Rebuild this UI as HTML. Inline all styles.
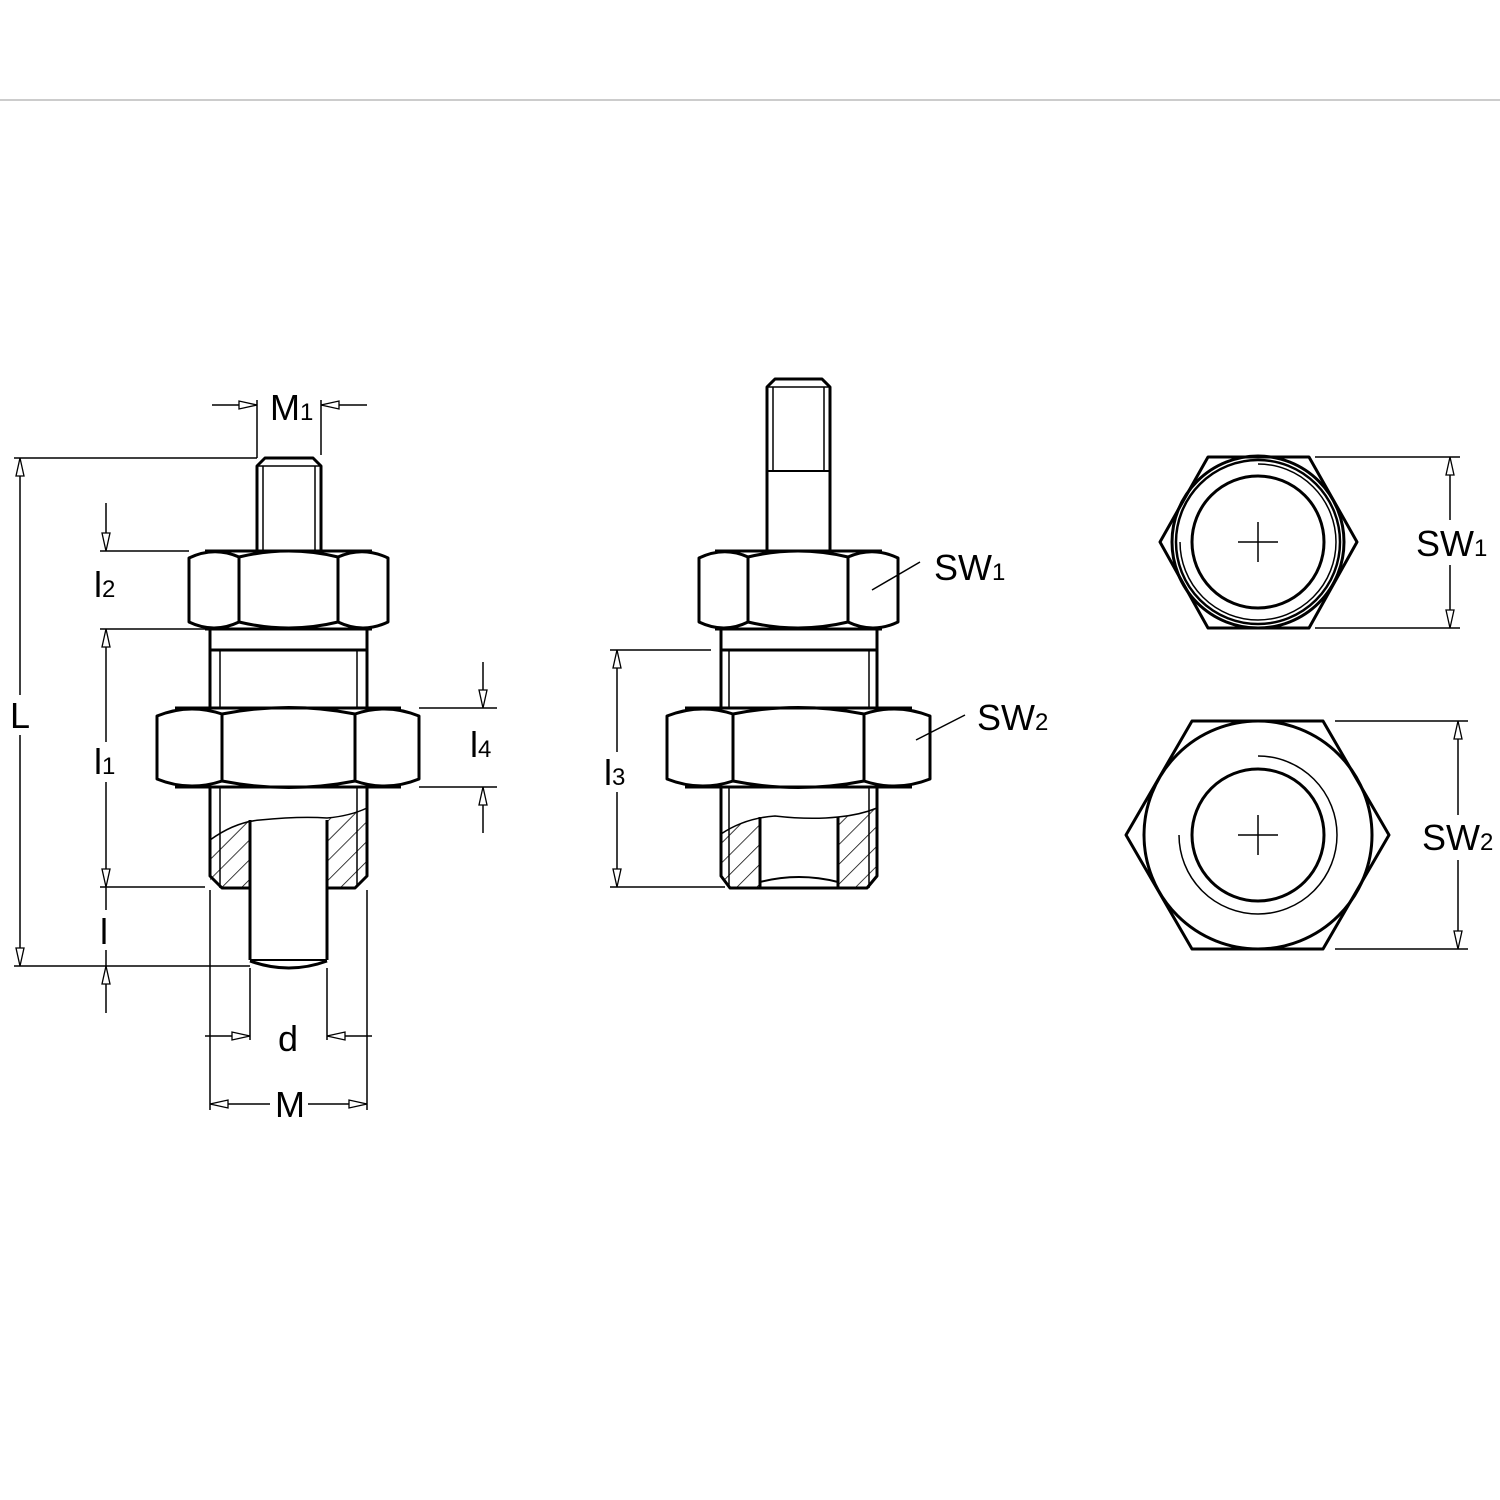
<!DOCTYPE html>
<html><head><meta charset="utf-8"><style>
html,body{margin:0;padding:0;background:#fff;}
svg{display:block;}
text{font-family:"Liberation Sans",sans-serif;fill:#000;}
</style></head><body>
<svg width="1500" height="1500" viewBox="0 0 1500 1500" xmlns="http://www.w3.org/2000/svg">
<defs>
<pattern id="h" patternUnits="userSpaceOnUse" width="14" height="14" patternTransform="rotate(45)">
<line x1="0" y1="0" x2="0" y2="14" stroke="#000" stroke-width="1.5"/>
</pattern>
</defs>
<line x1="0" y1="100" x2="1500" y2="100" stroke="#bbb" stroke-width="1.5"/>

<g fill="none" stroke="#000" stroke-width="3" stroke-linejoin="round">
<!-- LEFT VIEW -->
<!-- stud -->
<path d="M257,551 L257,466 L265,458 L313,458 L321,466 L321,551"/>
<line x1="257" y1="466" x2="321" y2="466" stroke-width="1.5"/>
<line x1="263" y1="466" x2="263" y2="551" stroke-width="1.5"/>
<line x1="315" y1="466" x2="315" y2="551" stroke-width="1.5"/>
<!-- nut A -->
<path fill="#fff" d="M189,558 Q214,546 239,557 Q289,545 338,557 Q363,546 388,558 L388,622 Q363,634 338,622 Q289,634 239,622 Q214,634 189,622 Z"/>
<line x1="239" y1="557" x2="239" y2="622"/><line x1="338" y1="557" x2="338" y2="622"/>
<line x1="205" y1="551" x2="372" y2="551"/><line x1="205" y1="629" x2="372" y2="629"/>
<!-- body -->
<line x1="210" y1="629" x2="210" y2="708"/><line x1="367" y1="629" x2="367" y2="708"/>
<line x1="210" y1="650" x2="367" y2="650"/>
<line x1="220" y1="650" x2="220" y2="708" stroke-width="1.5"/><line x1="357" y1="650" x2="357" y2="708" stroke-width="1.5"/>
<!-- nut B -->
<path fill="#fff" d="M157,716 Q189,703 222,714 Q289,701 355,714 Q387,703 419,716 L419,779 Q387,792 355,781 Q289,794 222,781 Q189,792 157,779 Z"/>
<line x1="222" y1="714" x2="222" y2="781"/><line x1="355" y1="714" x2="355" y2="781"/>
<line x1="175" y1="708" x2="401" y2="708"/><line x1="175" y1="787" x2="401" y2="787"/>
<!-- lower body -->
<path d="M210,787 L210,876 L222,888 L250,888"/>
<path d="M367,787 L367,876 L355,888 L327,888"/>
<line x1="220" y1="787" x2="220" y2="840" stroke-width="1.5"/><line x1="357" y1="787" x2="357" y2="815" stroke-width="1.5"/>
<path d="M210,840 L210,888 L222,888 L250,888 L250,822 Q230,826 210,840 Z" fill="url(#h)" stroke="none"/>
<path d="M327,818 Q350,816 367,808 L367,876 L355,888 L327,888 Z" fill="url(#h)" stroke="none"/>
<path d="M210,840 Q235,822 260,820 Q300,816 327,818 Q350,816 367,808" stroke-width="1.5"/>
<line x1="220" y1="840" x2="220" y2="888" stroke-width="1.5"/><line x1="357" y1="815" x2="357" y2="885" stroke-width="1.5"/>
<!-- pin -->
<path d="M250,820 L250,960 M327,820 L327,960"/>
<line x1="250" y1="960" x2="327" y2="960" stroke-width="2"/>
<path d="M250,961 Q289,975 327,961"/>

<!-- MIDDLE VIEW -->
<path d="M767,551 L767,387 L775,379 L822,379 L830,387 L830,551"/>
<line x1="767" y1="387" x2="830" y2="387" stroke-width="1.5"/>
<line x1="773" y1="387" x2="773" y2="471" stroke-width="1.5"/>
<line x1="824" y1="387" x2="824" y2="471" stroke-width="1.5"/>
<line x1="767" y1="471" x2="830" y2="471" stroke-width="2"/>
<path fill="#fff" d="M699,558 Q724,546 748,557 Q798,545 848,557 Q873,546 898,558 L898,622 Q873,634 848,622 Q798,634 748,622 Q724,634 699,622 Z"/>
<line x1="748" y1="557" x2="748" y2="622"/><line x1="848" y1="557" x2="848" y2="622"/>
<line x1="715" y1="551" x2="882" y2="551"/><line x1="715" y1="629" x2="882" y2="629"/>
<line x1="721" y1="629" x2="721" y2="708"/><line x1="877" y1="629" x2="877" y2="708"/>
<line x1="721" y1="650" x2="877" y2="650"/>
<line x1="729" y1="650" x2="729" y2="708" stroke-width="1.5"/><line x1="869" y1="650" x2="869" y2="708" stroke-width="1.5"/>
<path fill="#fff" d="M667,716 Q700,703 733,714 Q798,701 864,714 Q897,703 930,716 L930,779 Q897,792 864,781 Q798,794 733,781 Q700,792 667,779 Z"/>
<line x1="733" y1="714" x2="733" y2="781"/><line x1="864" y1="714" x2="864" y2="781"/>
<line x1="685" y1="708" x2="912" y2="708"/><line x1="685" y1="787" x2="912" y2="787"/>
<path d="M721,787 L721,876 L730,888 L867,888 L877,876 L877,787"/>
<line x1="729" y1="787" x2="729" y2="835" stroke-width="1.5"/><line x1="869" y1="787" x2="869" y2="810" stroke-width="1.5"/>
<path d="M721,834 Q740,822 760,817 L760,888 L730,888 L721,876 Z" fill="url(#h)" stroke="none"/>
<path d="M838,817 Q860,815 877,808 L877,876 L867,888 L838,888 Z" fill="url(#h)" stroke="none"/>
<path d="M721,834 Q745,818 775,816 Q810,820 838,817 Q860,815 877,808" stroke-width="1.5"/>
<line x1="729" y1="835" x2="729" y2="888" stroke-width="1.5"/><line x1="869" y1="810" x2="869" y2="888" stroke-width="1.5"/>
<path d="M760,817 L760,888 M838,817 L838,888"/>
<path d="M760,882 Q799,872 838,882" stroke-width="2"/>
<line x1="872" y1="590" x2="920" y2="562" stroke-width="1.5"/>
<line x1="916" y1="740" x2="965" y2="715" stroke-width="1.5"/>

<!-- RIGHT VIEWS -->
<polygon points="1160,542 1208,457 1309,457 1357,542 1309,628 1208,628"/>
<circle cx="1258" cy="542" r="86"/>
<circle cx="1258" cy="542" r="82" stroke-width="2.5"/>
<circle cx="1258" cy="542" r="66"/>
<path d="M1258,464 A78,78 0 1,1 1180,542" stroke-width="1.5"/>
<path d="M1238,542 H1278 M1258,522 V562" stroke-width="1.5"/>
<polygon points="1126,835 1192,721 1323,721 1389,835 1323,949 1192,949"/>
<circle cx="1258" cy="835" r="114"/>
<circle cx="1258" cy="835" r="66"/>
<path d="M1258,756 A79,79 0 1,1 1179,835" stroke-width="1.5"/>
<path d="M1238,835 H1278 M1258,815 V855" stroke-width="1.5"/>
</g>

<!-- DIMENSIONS -->
<g fill="none" stroke="#000" stroke-width="1.5">
<!-- M1 -->
<path d="M212,405 H257 M321,405 H367 M257,400 V458 M321,400 V455"/>
<path d="M14,458 H257 M14,966 H250"/>
<path d="M20,458 V966"/>
<path d="M100,551 H189 M100,629 H210 M100,887 H205"/>
<path d="M106,503 V551 M106,629 V887 M106,887 V1013"/>
<path d="M419,708 H497 M419,787 H497 M483,662 V708 M483,787 V833"/>
<path d="M250,968 V1040 M327,968 V1040 M205,1036 H250 M327,1036 H372"/>
<path d="M210,890 V1110 M367,890 V1110 M210,1104 H270 M308,1104 H367"/>
<path d="M610,650 H711 M610,887 H725 M617,650 V887"/>
<path d="M1315,457 H1460 M1315,628 H1460 M1450,457 V628"/>
<path d="M1335,721 H1468 M1335,949 H1468 M1458,721 V949"/>
</g>
<g fill="#fff" stroke="#000" stroke-width="1.3">
<!-- M1 arrows -->
<polygon points="257,405 239,401 239,409"/><polygon points="321,405 339,401 339,409"/>
<!-- L -->
<polygon points="20,458 16,476 24,476"/><polygon points="20,966 16,948 24,948"/>
<!-- l2 -->
<polygon points="106,551 102,533 110,533"/><polygon points="106,629 102,647 110,647"/>
<!-- l1 bottom / l -->
<polygon points="106,887 102,869 110,869"/><polygon points="106,966 102,984 110,984"/>
<!-- l4 -->
<polygon points="483,708 479,690 487,690"/><polygon points="483,787 479,805 487,805"/>
<!-- d -->
<polygon points="250,1036 232,1032 232,1040"/><polygon points="327,1036 345,1032 345,1040"/>
<!-- M -->
<polygon points="210,1104 228,1100 228,1108"/><polygon points="367,1104 349,1100 349,1108"/>
<!-- l3 -->
<polygon points="617,650 613,668 621,668"/><polygon points="617,887 613,869 621,869"/>
<!-- SW1 -->
<polygon points="1450,457 1446,475 1454,475"/><polygon points="1450,628 1446,610 1454,610"/>
<polygon points="1458,721 1454,739 1462,739"/><polygon points="1458,949 1454,931 1462,931"/>
</g>
<g stroke="none">
<rect x="1435" y="520" width="40" height="45" fill="#fff"/>
<rect x="1440" y="815" width="40" height="45" fill="#fff"/>
<rect x="8" y="695" width="24" height="40" fill="#fff"/>
<rect x="94" y="570" width="30" height="36" fill="#fff"/>
<rect x="94" y="742" width="30" height="40" fill="#fff"/>
<rect x="94" y="910" width="30" height="40" fill="#fff"/>
<rect x="605" y="752" width="30" height="40" fill="#fff"/>
</g>
<g font-size="36">
<text x="270" y="420">M<tspan font-size="24">1</tspan></text>
<text x="10" y="728">L</text>
<text x="94" y="597">l<tspan font-size="24">2</tspan></text>
<text x="94" y="774">l<tspan font-size="24">1</tspan></text>
<text x="100" y="944">l</text>
<text x="470" y="757">l<tspan font-size="24">4</tspan></text>
<text x="278" y="1051">d</text>
<text x="275" y="1117">M</text>
<text x="604" y="785">l<tspan font-size="24">3</tspan></text>
<text x="934" y="580">SW<tspan font-size="24">1</tspan></text>
<text x="977" y="730">SW<tspan font-size="24">2</tspan></text>
<text x="1416" y="556">SW<tspan font-size="24">1</tspan></text>
<text x="1422" y="850">SW<tspan font-size="24">2</tspan></text>
</g>
</svg>
</body></html>
